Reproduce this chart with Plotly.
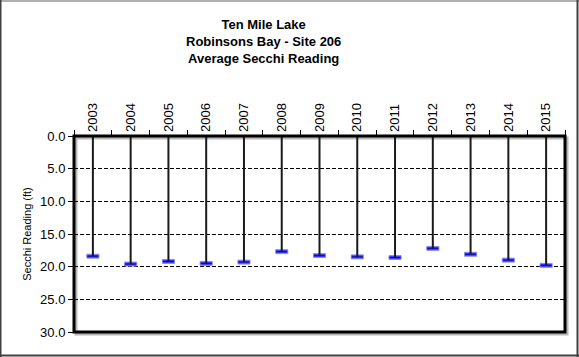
import plotly.graph_objects as go

years = ["2003", "2004", "2005", "2006", "2007", "2008", "2009",
         "2010", "2011", "2012", "2013", "2014", "2015"]
secchi = [18.4, 19.6, 19.2, 19.5, 19.3, 17.7, 18.3, 18.5, 18.6, 17.2, 18.1, 19.0, 19.8]
y_ticks = [0, 5, 10, 15, 20, 25, 30]
y_tick_labels = ["%.1f" % v for v in y_ticks]

W, H = 579, 357
ML, MR, MT, MB = 74, 14, 136, 25
PW, PH = W - ML - MR, H - MT - MB


def px_x(p):
    return (p - ML) / PW


def px_y(p):
    return (H - MB - p) / PH


fig = go.Figure()

# vertical stems from 0 to value
sx, sy = [], []
for c, v in zip(years, secchi):
    sx += [c, c, None]
    sy += [0, v, None]
fig.add_trace(go.Scatter(x=sx, y=sy, mode="lines",
                         line=dict(color="#1a1a1a", width=2),
                         hoverinfo="skip", showlegend=False))

# blue rectangular markers
fig.add_trace(go.Bar(x=years, y=[0.6] * len(secchi),
                     base=[v - 0.3 for v in secchi], width=0.32,
                     marker=dict(color="#3535ff", line=dict(color="#8a8aff", width=1)),
                     showlegend=False))
fig.add_trace(go.Scatter(x=years, y=secchi, mode="markers",
                         marker=dict(symbol="line-ew", size=8,
                                     line=dict(color="#10108a", width=1)),
                         showlegend=False))

shapes = []
# plot area shadow
shapes.append(dict(type="rect", xref="paper", yref="paper",
                   x0=px_x(ML + 2), x1=px_x(ML + PW + 2),
                   y0=px_y(MT + PH + 2), y1=px_y(MT + 2),
                   line=dict(color="#b8b8b8", width=3), layer="below"))
# plot border
shapes.append(dict(type="rect", xref="paper", yref="paper",
                   x0=0, x1=1, y0=0, y1=1,
                   line=dict(color="black", width=3)))
# outer frame
shapes.append(dict(type="line", xref="paper", yref="paper",
                   x0=px_x(0), x1=px_x(W), y0=px_y(1), y1=px_y(1),
                   line=dict(color="#b0b0b0", width=2)))
shapes.append(dict(type="line", xref="paper", yref="paper",
                   x0=px_x(0.5), x1=px_x(0.5), y0=px_y(0), y1=px_y(H),
                   line=dict(color="#404040", width=2)))
shapes.append(dict(type="line", xref="paper", yref="paper",
                   x0=px_x(W - 1.5), x1=px_x(W - 1.5), y0=px_y(0), y1=px_y(H),
                   line=dict(color="#404040", width=2)))
shapes.append(dict(type="line", xref="paper", yref="paper",
                   x0=px_x(0), x1=px_x(W), y0=px_y(H - 1.5), y1=px_y(H - 1.5),
                   line=dict(color="#404040", width=2)))

fig.update_layout(
    width=W, height=H,
    margin=dict(l=ML, r=MR, t=MT, b=MB, autoexpand=False),
    paper_bgcolor="white", plot_bgcolor="white",
    font=dict(family="Liberation Sans, Arial, sans-serif", color="black"),
    barmode="overlay",
    shapes=shapes,
    annotations=[dict(
        text="<b>Ten Mile Lake<br>Robinsons Bay - Site 206<br>Average Secchi Reading</b>",
        xref="paper", yref="paper", x=px_x(263), y=px_y(15),
        xanchor="center", yanchor="top", showarrow=False,
        font=dict(size=13, color="black"))],
    xaxis=dict(type="category", side="top", categoryorder="array", categoryarray=years,
               ticks="outside", tickson="boundaries", ticklen=5, tickcolor="black",
               tickwidth=1, tickangle=-90, tickfont=dict(size=13), ticklabelstandoff=3,
               showgrid=False, showline=False, zeroline=False,
               range=[-0.5, len(years) - 0.5]),
    yaxis=dict(range=[30, 0], tickvals=y_ticks, ticktext=y_tick_labels,
               ticks="outside", ticklen=5, tickcolor="black", tickwidth=1,
               tickfont=dict(size=13),
               showgrid=True, gridcolor="black", griddash="4px,2px", gridwidth=1,
               zeroline=False, showline=False,
               title=dict(text="Secchi Reading (ft)", font=dict(size=11), standoff=6)),
)

fig.write_html("out.html", config={"displayModeBar": False},
               post_script="document.body.style.margin='0';document.body.style.overflow='hidden';")
